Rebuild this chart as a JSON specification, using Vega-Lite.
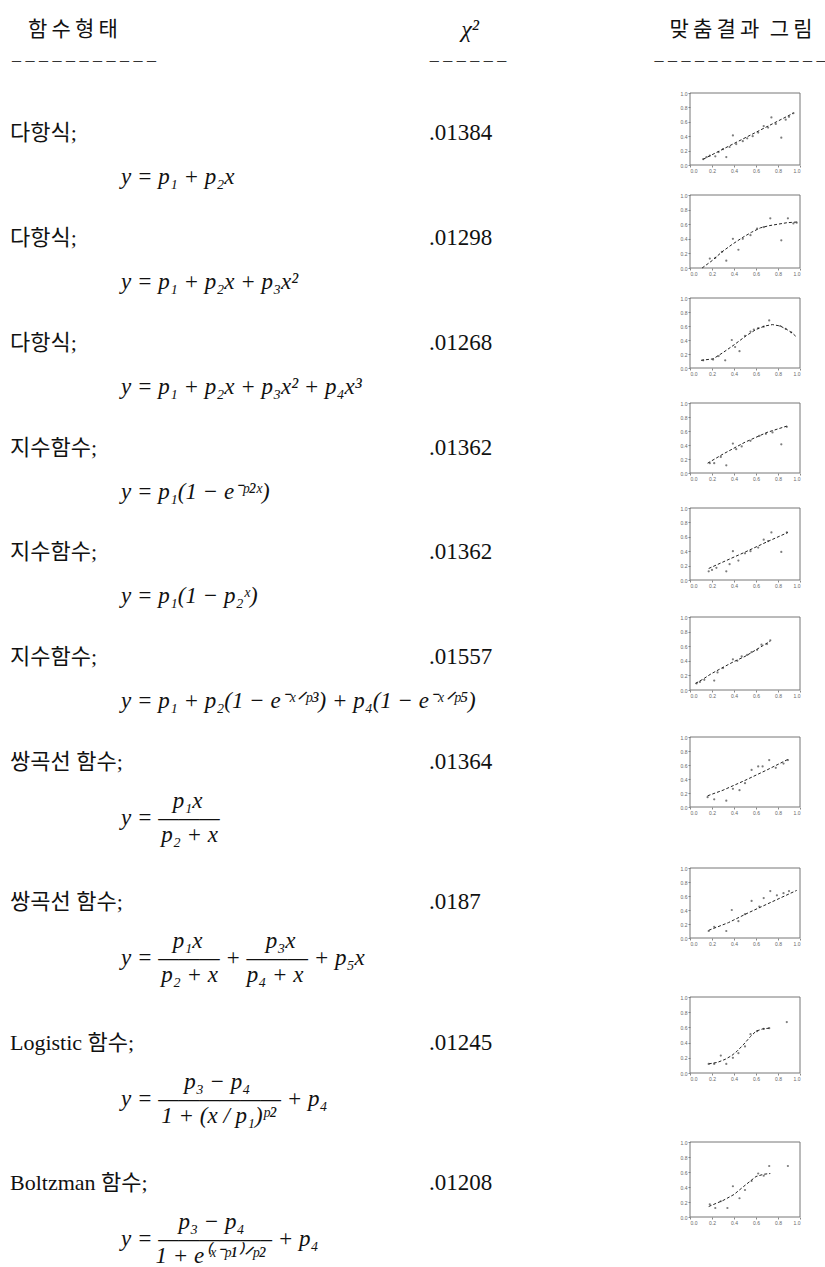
{
  "$schema": "https://vega.github.io/schema/vega-lite/v6.json",
  "padding": 0,
  "background": "white",
  "bounds": "flush",
  "spacing": 20,
  "config": {
    "view": {"stroke": null},
    "text": {"color": "#111", "baseline": "middle"},
    "axis": {"title": null, "grid": false, "domain": false, "tickSize": 2, "tickColor": "#888", "labelFontSize": 5, "labelColor": "#666", "tickCount": 5, "labelPadding": 1, "labelFont": "Liberation Sans"}
  },
  "datasets": {
    "head": [
      {"col": 1, "label": "함\u2009수\u2009형\u2009태", "dash": "– – – – – – – – – – –"},
      {"col": 2, "label": "χ²", "dash": "– – – – – –"},
      {"col": 3, "label": "맞\u2009춤\u2009결\u2009과\u2002그\u2009림", "dash": "– – – – – – – – – – – – –"}
    ],
    "rows": [
      {"row": 1, "name": "다항식;", "chi": ".01384", "kind": "line", "f": "y = p₁ + p₂x"},
      {"row": 2, "name": "다항식;", "chi": ".01298", "kind": "line", "f": "y = p₁ + p₂x + p₃x²"},
      {"row": 3, "name": "다항식;", "chi": ".01268", "kind": "line", "f": "y = p₁ + p₂x + p₃x² + p₄x³"},
      {"row": 4, "name": "지수함수;", "chi": ".01362", "kind": "line", "f": "y = p₁(1 − e⁻ᵖ²ˣ)"},
      {"row": 5, "name": "지수함수;", "chi": ".01362", "kind": "line", "f": "y = p₁(1 − p₂ˣ)"},
      {"row": 6, "name": "지수함수;", "chi": ".01557", "kind": "line", "f": "y = p₁ + p₂(1 − e⁻ˣᐟᵖ³) + p₄(1 − e⁻ˣᐟᵖ⁵)"},
      {"row": 7, "name": "쌍곡선 함수;", "chi": ".01364", "kind": "frac", "f": "\u200b\u00a0\u00a0\u00a0\u00a0\u00a0\u00a0\u00a0\u00a0\u00a0p₁x\ny = ———\n\u200b\u00a0\u00a0\u00a0\u00a0\u00a0\u00a0\u00a0p₂ + x"},
      {"row": 8, "name": "쌍곡선 함수;", "chi": ".0187", "kind": "frac", "f": "\u200b\u00a0\u00a0\u00a0\u00a0\u00a0\u00a0\u00a0\u00a0\u00a0p₁x\u00a0\u00a0\u00a0\u00a0\u00a0\u00a0\u00a0\u00a0\u00a0\u00a0\u00a0p₃x\ny = ——— + ——— + p₅x\n\u200b\u00a0\u00a0\u00a0\u00a0\u00a0\u00a0\u00a0p₂ + x\u00a0\u00a0\u00a0\u00a0\u00a0p₄ + x"},
      {"row": 9, "name": "Logistic 함수;", "chi": ".01245", "kind": "frac", "f": "\u200b\u00a0\u00a0\u00a0\u00a0\u00a0\u00a0\u00a0\u00a0\u00a0\u00a0\u00a0p₃ − p₄\ny = —————— + p₄\n\u200b\u00a0\u00a0\u00a0\u00a0\u00a0\u00a0\u00a01 + (x / p₁)ᵖ²"},
      {"row": 10, "name": "Boltzman 함수;", "chi": ".01208", "kind": "frac", "f": "\u200b\u00a0\u00a0\u00a0\u00a0\u00a0\u00a0\u00a0\u00a0\u00a0\u00a0p₃ − p₄\ny = —————– + p₄\n\u200b\u00a0\u00a0\u00a0\u00a0\u00a0\u00a01 + e⁽ˣ⁻ᵖ¹⁾ᐟᵖ²"}
    ],
    "thumbs": [
      {"row": 1, "k": "pt", "x": 0.12, "y": 0.08}, {"row": 1, "k": "pt", "x": 0.15, "y": 0.11}, {"row": 1, "k": "pt", "x": 0.18, "y": 0.13}, {"row": 1, "k": "pt", "x": 0.23, "y": 0.12}, {"row": 1, "k": "pt", "x": 0.26, "y": 0.18}, {"row": 1, "k": "pt", "x": 0.30, "y": 0.22}, {"row": 1, "k": "pt", "x": 0.33, "y": 0.11}, {"row": 1, "k": "pt", "x": 0.36, "y": 0.25}, {"row": 1, "k": "pt", "x": 0.39, "y": 0.41}, {"row": 1, "k": "pt", "x": 0.42, "y": 0.29}, {"row": 1, "k": "pt", "x": 0.48, "y": 0.33}, {"row": 1, "k": "pt", "x": 0.52, "y": 0.37}, {"row": 1, "k": "pt", "x": 0.57, "y": 0.40}, {"row": 1, "k": "pt", "x": 0.62, "y": 0.45}, {"row": 1, "k": "pt", "x": 0.67, "y": 0.54}, {"row": 1, "k": "pt", "x": 0.71, "y": 0.52}, {"row": 1, "k": "pt", "x": 0.74, "y": 0.66}, {"row": 1, "k": "pt", "x": 0.78, "y": 0.57}, {"row": 1, "k": "pt", "x": 0.83, "y": 0.38}, {"row": 1, "k": "pt", "x": 0.87, "y": 0.63}, {"row": 1, "k": "pt", "x": 0.90, "y": 0.67}, {"row": 1, "k": "pt", "x": 0.94, "y": 0.72},
      {"row": 1, "k": "fit", "x": 0.12, "y": 0.08}, {"row": 1, "k": "fit", "x": 0.94, "y": 0.72},
      {"row": 2, "k": "pt", "x": 0.18, "y": 0.13}, {"row": 2, "k": "pt", "x": 0.23, "y": 0.14}, {"row": 2, "k": "pt", "x": 0.29, "y": 0.22}, {"row": 2, "k": "pt", "x": 0.33, "y": 0.10}, {"row": 2, "k": "pt", "x": 0.39, "y": 0.40}, {"row": 2, "k": "pt", "x": 0.44, "y": 0.25}, {"row": 2, "k": "pt", "x": 0.48, "y": 0.40}, {"row": 2, "k": "pt", "x": 0.55, "y": 0.45}, {"row": 2, "k": "pt", "x": 0.61, "y": 0.54}, {"row": 2, "k": "pt", "x": 0.67, "y": 0.56}, {"row": 2, "k": "pt", "x": 0.73, "y": 0.68}, {"row": 2, "k": "pt", "x": 0.83, "y": 0.38}, {"row": 2, "k": "pt", "x": 0.89, "y": 0.68}, {"row": 2, "k": "pt", "x": 0.94, "y": 0.61}, {"row": 2, "k": "pt", "x": 0.97, "y": 0.62},
      {"row": 2, "k": "fit", "x": 0.11, "y": 0.0}, {"row": 2, "k": "fit", "x": 0.20, "y": 0.10}, {"row": 2, "k": "fit", "x": 0.29, "y": 0.22}, {"row": 2, "k": "fit", "x": 0.38, "y": 0.32}, {"row": 2, "k": "fit", "x": 0.48, "y": 0.42}, {"row": 2, "k": "fit", "x": 0.56, "y": 0.49}, {"row": 2, "k": "fit", "x": 0.64, "y": 0.55}, {"row": 2, "k": "fit", "x": 0.72, "y": 0.58}, {"row": 2, "k": "fit", "x": 0.80, "y": 0.60}, {"row": 2, "k": "fit", "x": 0.88, "y": 0.62}, {"row": 2, "k": "fit", "x": 0.97, "y": 0.63},
      {"row": 3, "k": "pt", "x": 0.12, "y": 0.11}, {"row": 3, "k": "pt", "x": 0.21, "y": 0.12}, {"row": 3, "k": "pt", "x": 0.26, "y": 0.17}, {"row": 3, "k": "pt", "x": 0.32, "y": 0.11}, {"row": 3, "k": "pt", "x": 0.38, "y": 0.40}, {"row": 3, "k": "pt", "x": 0.41, "y": 0.30}, {"row": 3, "k": "pt", "x": 0.45, "y": 0.24}, {"row": 3, "k": "pt", "x": 0.50, "y": 0.46}, {"row": 3, "k": "pt", "x": 0.55, "y": 0.52}, {"row": 3, "k": "pt", "x": 0.58, "y": 0.55}, {"row": 3, "k": "pt", "x": 0.62, "y": 0.57}, {"row": 3, "k": "pt", "x": 0.67, "y": 0.59}, {"row": 3, "k": "pt", "x": 0.72, "y": 0.68}, {"row": 3, "k": "pt", "x": 0.82, "y": 0.60}, {"row": 3, "k": "pt", "x": 0.87, "y": 0.56}, {"row": 3, "k": "pt", "x": 0.92, "y": 0.51},
      {"row": 3, "k": "fit", "x": 0.10, "y": 0.11}, {"row": 3, "k": "fit", "x": 0.21, "y": 0.13}, {"row": 3, "k": "fit", "x": 0.30, "y": 0.22}, {"row": 3, "k": "fit", "x": 0.40, "y": 0.33}, {"row": 3, "k": "fit", "x": 0.51, "y": 0.46}, {"row": 3, "k": "fit", "x": 0.60, "y": 0.55}, {"row": 3, "k": "fit", "x": 0.68, "y": 0.60}, {"row": 3, "k": "fit", "x": 0.75, "y": 0.62}, {"row": 3, "k": "fit", "x": 0.82, "y": 0.60}, {"row": 3, "k": "fit", "x": 0.88, "y": 0.55}, {"row": 3, "k": "fit", "x": 0.93, "y": 0.50}, {"row": 3, "k": "fit", "x": 0.97, "y": 0.44},
      {"row": 4, "k": "pt", "x": 0.18, "y": 0.14}, {"row": 4, "k": "pt", "x": 0.22, "y": 0.14}, {"row": 4, "k": "pt", "x": 0.28, "y": 0.23}, {"row": 4, "k": "pt", "x": 0.33, "y": 0.11}, {"row": 4, "k": "pt", "x": 0.39, "y": 0.42}, {"row": 4, "k": "pt", "x": 0.42, "y": 0.34}, {"row": 4, "k": "pt", "x": 0.47, "y": 0.38}, {"row": 4, "k": "pt", "x": 0.55, "y": 0.46}, {"row": 4, "k": "pt", "x": 0.63, "y": 0.53}, {"row": 4, "k": "pt", "x": 0.69, "y": 0.56}, {"row": 4, "k": "pt", "x": 0.75, "y": 0.58}, {"row": 4, "k": "pt", "x": 0.83, "y": 0.41}, {"row": 4, "k": "pt", "x": 0.88, "y": 0.66},
      {"row": 4, "k": "fit", "x": 0.16, "y": 0.14}, {"row": 4, "k": "fit", "x": 0.30, "y": 0.27}, {"row": 4, "k": "fit", "x": 0.50, "y": 0.44}, {"row": 4, "k": "fit", "x": 0.70, "y": 0.58}, {"row": 4, "k": "fit", "x": 0.88, "y": 0.67},
      {"row": 5, "k": "pt", "x": 0.17, "y": 0.12}, {"row": 5, "k": "pt", "x": 0.20, "y": 0.14}, {"row": 5, "k": "pt", "x": 0.24, "y": 0.17}, {"row": 5, "k": "pt", "x": 0.33, "y": 0.12}, {"row": 5, "k": "pt", "x": 0.36, "y": 0.22}, {"row": 5, "k": "pt", "x": 0.39, "y": 0.40}, {"row": 5, "k": "pt", "x": 0.44, "y": 0.27}, {"row": 5, "k": "pt", "x": 0.50, "y": 0.37}, {"row": 5, "k": "pt", "x": 0.55, "y": 0.40}, {"row": 5, "k": "pt", "x": 0.62, "y": 0.45}, {"row": 5, "k": "pt", "x": 0.67, "y": 0.56}, {"row": 5, "k": "pt", "x": 0.71, "y": 0.54}, {"row": 5, "k": "pt", "x": 0.74, "y": 0.66}, {"row": 5, "k": "pt", "x": 0.83, "y": 0.39}, {"row": 5, "k": "pt", "x": 0.88, "y": 0.66},
      {"row": 5, "k": "fit", "x": 0.17, "y": 0.16}, {"row": 5, "k": "fit", "x": 0.30, "y": 0.25}, {"row": 5, "k": "fit", "x": 0.49, "y": 0.38}, {"row": 5, "k": "fit", "x": 0.70, "y": 0.53}, {"row": 5, "k": "fit", "x": 0.89, "y": 0.66},
      {"row": 6, "k": "pt", "x": 0.06, "y": 0.09}, {"row": 6, "k": "pt", "x": 0.09, "y": 0.11}, {"row": 6, "k": "pt", "x": 0.13, "y": 0.14}, {"row": 6, "k": "pt", "x": 0.22, "y": 0.13}, {"row": 6, "k": "pt", "x": 0.25, "y": 0.24}, {"row": 6, "k": "pt", "x": 0.30, "y": 0.30}, {"row": 6, "k": "pt", "x": 0.39, "y": 0.42}, {"row": 6, "k": "pt", "x": 0.43, "y": 0.40}, {"row": 6, "k": "pt", "x": 0.47, "y": 0.46}, {"row": 6, "k": "pt", "x": 0.52, "y": 0.48}, {"row": 6, "k": "pt", "x": 0.56, "y": 0.52}, {"row": 6, "k": "pt", "x": 0.61, "y": 0.55}, {"row": 6, "k": "pt", "x": 0.65, "y": 0.62}, {"row": 6, "k": "pt", "x": 0.70, "y": 0.63}, {"row": 6, "k": "pt", "x": 0.73, "y": 0.68},
      {"row": 6, "k": "fit", "x": 0.05, "y": 0.09}, {"row": 6, "k": "fit", "x": 0.12, "y": 0.15}, {"row": 6, "k": "fit", "x": 0.19, "y": 0.22}, {"row": 6, "k": "fit", "x": 0.30, "y": 0.31}, {"row": 6, "k": "fit", "x": 0.40, "y": 0.39}, {"row": 6, "k": "fit", "x": 0.50, "y": 0.46}, {"row": 6, "k": "fit", "x": 0.60, "y": 0.55}, {"row": 6, "k": "fit", "x": 0.73, "y": 0.67},
      {"row": 7, "k": "pt", "x": 0.16, "y": 0.14}, {"row": 7, "k": "pt", "x": 0.22, "y": 0.11}, {"row": 7, "k": "pt", "x": 0.33, "y": 0.09}, {"row": 7, "k": "pt", "x": 0.39, "y": 0.26}, {"row": 7, "k": "pt", "x": 0.45, "y": 0.24}, {"row": 7, "k": "pt", "x": 0.50, "y": 0.34}, {"row": 7, "k": "pt", "x": 0.56, "y": 0.53}, {"row": 7, "k": "pt", "x": 0.62, "y": 0.58}, {"row": 7, "k": "pt", "x": 0.66, "y": 0.58}, {"row": 7, "k": "pt", "x": 0.72, "y": 0.67}, {"row": 7, "k": "pt", "x": 0.78, "y": 0.56}, {"row": 7, "k": "pt", "x": 0.85, "y": 0.62}, {"row": 7, "k": "pt", "x": 0.89, "y": 0.67},
      {"row": 7, "k": "fit", "x": 0.16, "y": 0.16}, {"row": 7, "k": "fit", "x": 0.30, "y": 0.24}, {"row": 7, "k": "fit", "x": 0.50, "y": 0.38}, {"row": 7, "k": "fit", "x": 0.70, "y": 0.53}, {"row": 7, "k": "fit", "x": 0.89, "y": 0.68},
      {"row": 8, "k": "pt", "x": 0.17, "y": 0.10}, {"row": 8, "k": "pt", "x": 0.22, "y": 0.16}, {"row": 8, "k": "pt", "x": 0.33, "y": 0.10}, {"row": 8, "k": "pt", "x": 0.38, "y": 0.40}, {"row": 8, "k": "pt", "x": 0.44, "y": 0.24}, {"row": 8, "k": "pt", "x": 0.50, "y": 0.34}, {"row": 8, "k": "pt", "x": 0.56, "y": 0.53}, {"row": 8, "k": "pt", "x": 0.63, "y": 0.45}, {"row": 8, "k": "pt", "x": 0.67, "y": 0.57}, {"row": 8, "k": "pt", "x": 0.73, "y": 0.67}, {"row": 8, "k": "pt", "x": 0.79, "y": 0.61}, {"row": 8, "k": "pt", "x": 0.85, "y": 0.64}, {"row": 8, "k": "pt", "x": 0.90, "y": 0.67},
      {"row": 8, "k": "fit", "x": 0.17, "y": 0.11}, {"row": 8, "k": "fit", "x": 0.35, "y": 0.22}, {"row": 8, "k": "fit", "x": 0.53, "y": 0.36}, {"row": 8, "k": "fit", "x": 0.75, "y": 0.52}, {"row": 8, "k": "fit", "x": 0.97, "y": 0.68},
      {"row": 9, "k": "pt", "x": 0.17, "y": 0.12}, {"row": 9, "k": "pt", "x": 0.22, "y": 0.12}, {"row": 9, "k": "pt", "x": 0.28, "y": 0.23}, {"row": 9, "k": "pt", "x": 0.33, "y": 0.12}, {"row": 9, "k": "pt", "x": 0.39, "y": 0.20}, {"row": 9, "k": "pt", "x": 0.44, "y": 0.26}, {"row": 9, "k": "pt", "x": 0.50, "y": 0.35}, {"row": 9, "k": "pt", "x": 0.55, "y": 0.51}, {"row": 9, "k": "pt", "x": 0.61, "y": 0.55}, {"row": 9, "k": "pt", "x": 0.67, "y": 0.58}, {"row": 9, "k": "pt", "x": 0.72, "y": 0.59}, {"row": 9, "k": "pt", "x": 0.88, "y": 0.67},
      {"row": 9, "k": "fit", "x": 0.17, "y": 0.12}, {"row": 9, "k": "fit", "x": 0.25, "y": 0.14}, {"row": 9, "k": "fit", "x": 0.32, "y": 0.18}, {"row": 9, "k": "fit", "x": 0.38, "y": 0.23}, {"row": 9, "k": "fit", "x": 0.43, "y": 0.29}, {"row": 9, "k": "fit", "x": 0.49, "y": 0.38}, {"row": 9, "k": "fit", "x": 0.55, "y": 0.48}, {"row": 9, "k": "fit", "x": 0.60, "y": 0.55}, {"row": 9, "k": "fit", "x": 0.66, "y": 0.58}, {"row": 9, "k": "fit", "x": 0.72, "y": 0.59},
      {"row": 10, "k": "pt", "x": 0.18, "y": 0.17}, {"row": 10, "k": "pt", "x": 0.23, "y": 0.12}, {"row": 10, "k": "pt", "x": 0.28, "y": 0.21}, {"row": 10, "k": "pt", "x": 0.34, "y": 0.12}, {"row": 10, "k": "pt", "x": 0.39, "y": 0.41}, {"row": 10, "k": "pt", "x": 0.45, "y": 0.25}, {"row": 10, "k": "pt", "x": 0.50, "y": 0.36}, {"row": 10, "k": "pt", "x": 0.56, "y": 0.48}, {"row": 10, "k": "pt", "x": 0.62, "y": 0.58}, {"row": 10, "k": "pt", "x": 0.67, "y": 0.55}, {"row": 10, "k": "pt", "x": 0.72, "y": 0.68}, {"row": 10, "k": "pt", "x": 0.89, "y": 0.68},
      {"row": 10, "k": "fit", "x": 0.17, "y": 0.14}, {"row": 10, "k": "fit", "x": 0.30, "y": 0.22}, {"row": 10, "k": "fit", "x": 0.40, "y": 0.30}, {"row": 10, "k": "fit", "x": 0.49, "y": 0.41}, {"row": 10, "k": "fit", "x": 0.60, "y": 0.54}, {"row": 10, "k": "fit", "x": 0.67, "y": 0.57}, {"row": 10, "k": "fit", "x": 0.73, "y": 0.58}
    ]
  },
  "hconcat": [
    {
      "width": 670,
      "height": 1267,
      "resolve": {"scale": {"x": "independent"}},
      "layer": [
        {
          "data": {"name": "head"},
          "transform": [{"filter": "datum.col == 1"}],
          "mark": {"type": "text", "font": "Noto Sans CJK KR", "fontSize": 21, "align": "center"},
          "encoding": {
            "x": {"field": "col", "type": "quantitative", "scale": {"domain": [1, 2], "range": [73, 468]}, "axis": null},
            "y": {"datum": 0, "type": "quantitative", "scale": {"domain": [0, 1, 7, 10], "range": [30, 133, 762, 1183], "zero": false, "nice": false}, "axis": null},
            "text": {"field": "label"}
          }
        },
        {
          "data": {"name": "head"},
          "transform": [{"filter": "datum.col == 2"}],
          "mark": {"type": "text", "font": "Liberation Serif", "fontStyle": "italic", "fontSize": 24, "align": "center"},
          "encoding": {
            "x": {"field": "col", "type": "quantitative", "scale": {"domain": [1, 2], "range": [73, 470]}, "axis": null},
            "y": {"datum": 0, "type": "quantitative", "scale": {"domain": [0, 1, 7, 10], "range": [30, 133, 762, 1183], "zero": false, "nice": false}, "axis": null},
            "text": {"field": "label"}
          }
        },
        {
          "data": {"name": "head"},
          "transform": [{"filter": "datum.col <= 2"}],
          "mark": {"type": "text", "font": "Liberation Serif", "fontSize": 18, "align": "center", "dy": 31, "color": "#333"},
          "encoding": {
            "x": {"field": "col", "type": "quantitative", "scale": {"domain": [1, 2], "range": [84, 468]}, "axis": null},
            "y": {"datum": 0, "type": "quantitative", "scale": {"domain": [0, 1, 7, 10], "range": [30, 133, 762, 1183], "zero": false, "nice": false}, "axis": null},
            "text": {"field": "dash"}
          }
        },
        {
          "data": {"name": "rows"},
          "mark": {"type": "text", "font": "'Liberation Serif', 'Noto Sans CJK KR'", "fontSize": 22, "align": "left"},
          "encoding": {
            "x": {"datum": 1, "type": "quantitative", "scale": {"domain": [1, 2, 3], "range": [10, 121, 429]}, "axis": null},
            "y": {"field": "row", "type": "quantitative", "scale": {"domain": [0, 1, 7, 10], "range": [30, 133, 762, 1183], "zero": false, "nice": false}, "axis": null},
            "text": {"field": "name"}
          }
        },
        {
          "data": {"name": "rows"},
          "mark": {"type": "text", "font": "Liberation Serif", "fontSize": 23, "align": "left"},
          "encoding": {
            "x": {"datum": 3, "type": "quantitative", "scale": {"domain": [1, 2, 3], "range": [10, 121, 429]}, "axis": null},
            "y": {"field": "row", "type": "quantitative", "scale": {"domain": [0, 1, 7, 10], "range": [30, 133, 762, 1183], "zero": false, "nice": false}, "axis": null},
            "text": {"field": "chi"}
          }
        },
        {
          "data": {"name": "rows"},
          "transform": [{"filter": "datum.kind == 'line'"}],
          "mark": {"type": "text", "font": "Liberation Serif", "fontStyle": "italic", "fontSize": 23, "align": "left", "dy": 44},
          "encoding": {
            "x": {"datum": 2, "type": "quantitative", "scale": {"domain": [1, 2, 3], "range": [10, 121, 429]}, "axis": null},
            "y": {"field": "row", "type": "quantitative", "scale": {"domain": [0, 1, 7, 10], "range": [30, 133, 762, 1183], "zero": false, "nice": false}, "axis": null},
            "text": {"field": "f"}
          }
        },
        {
          "data": {"name": "rows"},
          "transform": [{"filter": "datum.kind == 'frac'"}],
          "mark": {"type": "text", "font": "Liberation Serif", "fontStyle": "italic", "fontSize": 23, "align": "left", "dy": 39, "lineBreak": "\n", "lineHeight": 17},
          "encoding": {
            "x": {"datum": 2, "type": "quantitative", "scale": {"domain": [1, 2, 3], "range": [10, 121, 429]}, "axis": null},
            "y": {"field": "row", "type": "quantitative", "scale": {"domain": [0, 1, 7, 10], "range": [30, 133, 762, 1183], "zero": false, "nice": false}, "axis": null},
            "text": {"field": "f"}
          }
        }
      ]
    },
    {
      "bounds": "flush",
      "spacing": 0,
      "vconcat": [
        {
          "width": 110,
          "height": 80,
          "data": {"name": "head"},
          "transform": [{"filter": "datum.col == 3"}],
          "layer": [
            {"mark": {"type": "text", "font": "Noto Sans CJK KR", "fontSize": 21, "align": "center", "dx": -4, "dy": -10}, "encoding": {"text": {"field": "label"}}},
            {"mark": {"type": "text", "font": "Liberation Serif", "fontSize": 18, "align": "center", "dx": -5, "dy": 21, "color": "#333"}, "encoding": {"text": {"field": "dash"}}}
          ]
        },
        {
          "width": 110, "height": 102,
          "layer": [
            {"data": {"name": "rows"}, "transform": [{"filter": "datum.row == 1"}], "mark": {"type": "rect", "fillOpacity": 0, "stroke": "#777", "strokeWidth": 1},
             "encoding": {"x": {"datum": 0, "type": "quantitative", "scale": {"domain": [0, 1], "nice": false, "zero": false}, "axis": {"offset": -17}}, "x2": {"datum": 1}, "y": {"datum": 0, "type": "quantitative", "scale": {"domain": [0, 1], "range": [85, 13], "nice": false, "zero": false}, "axis": {}}, "y2": {"datum": 1}}},
            {"data": {"name": "thumbs"}, "transform": [{"filter": "datum.row == 1 && datum.k == 'pt'"}], "mark": {"type": "point", "filled": true, "size": 5, "color": "#444"},
             "encoding": {"x": {"field": "x", "type": "quantitative", "axis": {"offset": -17}}, "y": {"field": "y", "type": "quantitative", "axis": {}}}},
            {"data": {"name": "thumbs"}, "transform": [{"filter": "datum.row == 1 && datum.k == 'fit'"}], "mark": {"type": "line", "color": "#222", "strokeWidth": 1, "strokeDash": [3, 2]},
             "encoding": {"x": {"field": "x", "type": "quantitative", "axis": {"offset": -17}}, "y": {"field": "y", "type": "quantitative", "axis": {}}}}
          ]
        },
        {
          "width": 110, "height": 103,
          "layer": [
            {"data": {"name": "rows"}, "transform": [{"filter": "datum.row == 2"}], "mark": {"type": "rect", "fillOpacity": 0, "stroke": "#777", "strokeWidth": 1},
             "encoding": {"x": {"datum": 0, "type": "quantitative", "scale": {"domain": [0, 1], "nice": false, "zero": false}, "axis": {"offset": -17}}, "x2": {"datum": 1}, "y": {"datum": 0, "type": "quantitative", "scale": {"domain": [0, 1], "range": [86, 13], "nice": false, "zero": false}, "axis": {}}, "y2": {"datum": 1}}},
            {"data": {"name": "thumbs"}, "transform": [{"filter": "datum.row == 2 && datum.k == 'pt'"}], "mark": {"type": "point", "filled": true, "size": 5, "color": "#444"},
             "encoding": {"x": {"field": "x", "type": "quantitative", "axis": {"offset": -17}}, "y": {"field": "y", "type": "quantitative", "axis": {}}}},
            {"data": {"name": "thumbs"}, "transform": [{"filter": "datum.row == 2 && datum.k == 'fit'"}], "mark": {"type": "line", "color": "#222", "strokeWidth": 1, "strokeDash": [3, 2]},
             "encoding": {"x": {"field": "x", "type": "quantitative", "axis": {"offset": -17}}, "y": {"field": "y", "type": "quantitative", "axis": {}}}}
          ]
        },
        {
          "width": 110, "height": 105,
          "layer": [
            {"data": {"name": "rows"}, "transform": [{"filter": "datum.row == 3"}], "mark": {"type": "rect", "fillOpacity": 0, "stroke": "#777", "strokeWidth": 1},
             "encoding": {"x": {"datum": 0, "type": "quantitative", "scale": {"domain": [0, 1], "nice": false, "zero": false}, "axis": {"offset": -22}}, "x2": {"datum": 1}, "y": {"datum": 0, "type": "quantitative", "scale": {"domain": [0, 1], "range": [83, 13], "nice": false, "zero": false}, "axis": {}}, "y2": {"datum": 1}}},
            {"data": {"name": "thumbs"}, "transform": [{"filter": "datum.row == 3 && datum.k == 'pt'"}], "mark": {"type": "point", "filled": true, "size": 5, "color": "#444"},
             "encoding": {"x": {"field": "x", "type": "quantitative", "axis": {"offset": -22}}, "y": {"field": "y", "type": "quantitative", "axis": {}}}},
            {"data": {"name": "thumbs"}, "transform": [{"filter": "datum.row == 3 && datum.k == 'fit'"}], "mark": {"type": "line", "color": "#222", "strokeWidth": 1, "strokeDash": [3, 2]},
             "encoding": {"x": {"field": "x", "type": "quantitative", "axis": {"offset": -22}}, "y": {"field": "y", "type": "quantitative", "axis": {}}}}
          ]
        },
        {
          "width": 110, "height": 105,
          "layer": [
            {"data": {"name": "rows"}, "transform": [{"filter": "datum.row == 4"}], "mark": {"type": "rect", "fillOpacity": 0, "stroke": "#777", "strokeWidth": 1},
             "encoding": {"x": {"datum": 0, "type": "quantitative", "scale": {"domain": [0, 1], "nice": false, "zero": false}, "axis": {"offset": -22}}, "x2": {"datum": 1}, "y": {"datum": 0, "type": "quantitative", "scale": {"domain": [0, 1], "range": [83, 13], "nice": false, "zero": false}, "axis": {}}, "y2": {"datum": 1}}},
            {"data": {"name": "thumbs"}, "transform": [{"filter": "datum.row == 4 && datum.k == 'pt'"}], "mark": {"type": "point", "filled": true, "size": 5, "color": "#444"},
             "encoding": {"x": {"field": "x", "type": "quantitative", "axis": {"offset": -22}}, "y": {"field": "y", "type": "quantitative", "axis": {}}}},
            {"data": {"name": "thumbs"}, "transform": [{"filter": "datum.row == 4 && datum.k == 'fit'"}], "mark": {"type": "line", "color": "#222", "strokeWidth": 1, "strokeDash": [3, 2]},
             "encoding": {"x": {"field": "x", "type": "quantitative", "axis": {"offset": -22}}, "y": {"field": "y", "type": "quantitative", "axis": {}}}}
          ]
        },
        {
          "width": 110, "height": 109,
          "layer": [
            {"data": {"name": "rows"}, "transform": [{"filter": "datum.row == 5"}], "mark": {"type": "rect", "fillOpacity": 0, "stroke": "#777", "strokeWidth": 1},
             "encoding": {"x": {"datum": 0, "type": "quantitative", "scale": {"domain": [0, 1], "nice": false, "zero": false}, "axis": {"offset": -24}}, "x2": {"datum": 1}, "y": {"datum": 0, "type": "quantitative", "scale": {"domain": [0, 1], "range": [85, 13], "nice": false, "zero": false}, "axis": {}}, "y2": {"datum": 1}}},
            {"data": {"name": "thumbs"}, "transform": [{"filter": "datum.row == 5 && datum.k == 'pt'"}], "mark": {"type": "point", "filled": true, "size": 5, "color": "#444"},
             "encoding": {"x": {"field": "x", "type": "quantitative", "axis": {"offset": -24}}, "y": {"field": "y", "type": "quantitative", "axis": {}}}},
            {"data": {"name": "thumbs"}, "transform": [{"filter": "datum.row == 5 && datum.k == 'fit'"}], "mark": {"type": "line", "color": "#222", "strokeWidth": 1, "strokeDash": [3, 2]},
             "encoding": {"x": {"field": "x", "type": "quantitative", "axis": {"offset": -24}}, "y": {"field": "y", "type": "quantitative", "axis": {}}}}
          ]
        },
        {
          "width": 110, "height": 120,
          "layer": [
            {"data": {"name": "rows"}, "transform": [{"filter": "datum.row == 6"}], "mark": {"type": "rect", "fillOpacity": 0, "stroke": "#777", "strokeWidth": 1},
             "encoding": {"x": {"datum": 0, "type": "quantitative", "scale": {"domain": [0, 1], "nice": false, "zero": false}, "axis": {"offset": -34}}, "x2": {"datum": 1}, "y": {"datum": 0, "type": "quantitative", "scale": {"domain": [0, 1], "range": [86, 13], "nice": false, "zero": false}, "axis": {}}, "y2": {"datum": 1}}},
            {"data": {"name": "thumbs"}, "transform": [{"filter": "datum.row == 6 && datum.k == 'pt'"}], "mark": {"type": "point", "filled": true, "size": 5, "color": "#444"},
             "encoding": {"x": {"field": "x", "type": "quantitative", "axis": {"offset": -34}}, "y": {"field": "y", "type": "quantitative", "axis": {}}}},
            {"data": {"name": "thumbs"}, "transform": [{"filter": "datum.row == 6 && datum.k == 'fit'"}], "mark": {"type": "line", "color": "#222", "strokeWidth": 1, "strokeDash": [3, 2]},
             "encoding": {"x": {"field": "x", "type": "quantitative", "axis": {"offset": -34}}, "y": {"field": "y", "type": "quantitative", "axis": {}}}}
          ]
        },
        {
          "width": 110, "height": 131,
          "layer": [
            {"data": {"name": "rows"}, "transform": [{"filter": "datum.row == 7"}], "mark": {"type": "rect", "fillOpacity": 0, "stroke": "#777", "strokeWidth": 1},
             "encoding": {"x": {"datum": 0, "type": "quantitative", "scale": {"domain": [0, 1], "nice": false, "zero": false}, "axis": {"offset": -48}}, "x2": {"datum": 1}, "y": {"datum": 0, "type": "quantitative", "scale": {"domain": [0, 1], "range": [83, 13], "nice": false, "zero": false}, "axis": {}}, "y2": {"datum": 1}}},
            {"data": {"name": "thumbs"}, "transform": [{"filter": "datum.row == 7 && datum.k == 'pt'"}], "mark": {"type": "point", "filled": true, "size": 5, "color": "#444"},
             "encoding": {"x": {"field": "x", "type": "quantitative", "axis": {"offset": -48}}, "y": {"field": "y", "type": "quantitative", "axis": {}}}},
            {"data": {"name": "thumbs"}, "transform": [{"filter": "datum.row == 7 && datum.k == 'fit'"}], "mark": {"type": "line", "color": "#222", "strokeWidth": 1, "strokeDash": [3, 2]},
             "encoding": {"x": {"field": "x", "type": "quantitative", "axis": {"offset": -48}}, "y": {"field": "y", "type": "quantitative", "axis": {}}}}
          ]
        },
        {
          "width": 110, "height": 129,
          "layer": [
            {"data": {"name": "rows"}, "transform": [{"filter": "datum.row == 8"}], "mark": {"type": "rect", "fillOpacity": 0, "stroke": "#777", "strokeWidth": 1},
             "encoding": {"x": {"datum": 0, "type": "quantitative", "scale": {"domain": [0, 1], "nice": false, "zero": false}, "axis": {"offset": -46}}, "x2": {"datum": 1}, "y": {"datum": 0, "type": "quantitative", "scale": {"domain": [0, 1], "range": [83, 13], "nice": false, "zero": false}, "axis": {}}, "y2": {"datum": 1}}},
            {"data": {"name": "thumbs"}, "transform": [{"filter": "datum.row == 8 && datum.k == 'pt'"}], "mark": {"type": "point", "filled": true, "size": 5, "color": "#444"},
             "encoding": {"x": {"field": "x", "type": "quantitative", "axis": {"offset": -46}}, "y": {"field": "y", "type": "quantitative", "axis": {}}}},
            {"data": {"name": "thumbs"}, "transform": [{"filter": "datum.row == 8 && datum.k == 'fit'"}], "mark": {"type": "line", "color": "#222", "strokeWidth": 1, "strokeDash": [3, 2]},
             "encoding": {"x": {"field": "x", "type": "quantitative", "axis": {"offset": -46}}, "y": {"field": "y", "type": "quantitative", "axis": {}}}}
          ]
        },
        {
          "width": 110, "height": 145,
          "layer": [
            {"data": {"name": "rows"}, "transform": [{"filter": "datum.row == 9"}], "mark": {"type": "rect", "fillOpacity": 0, "stroke": "#777", "strokeWidth": 1},
             "encoding": {"x": {"datum": 0, "type": "quantitative", "scale": {"domain": [0, 1], "nice": false, "zero": false}, "axis": {"offset": -56}}, "x2": {"datum": 1}, "y": {"datum": 0, "type": "quantitative", "scale": {"domain": [0, 1], "range": [89, 13], "nice": false, "zero": false}, "axis": {}}, "y2": {"datum": 1}}},
            {"data": {"name": "thumbs"}, "transform": [{"filter": "datum.row == 9 && datum.k == 'pt'"}], "mark": {"type": "point", "filled": true, "size": 5, "color": "#444"},
             "encoding": {"x": {"field": "x", "type": "quantitative", "axis": {"offset": -56}}, "y": {"field": "y", "type": "quantitative", "axis": {}}}},
            {"data": {"name": "thumbs"}, "transform": [{"filter": "datum.row == 9 && datum.k == 'fit'"}], "mark": {"type": "line", "color": "#222", "strokeWidth": 1, "strokeDash": [3, 2]},
             "encoding": {"x": {"field": "x", "type": "quantitative", "axis": {"offset": -56}}, "y": {"field": "y", "type": "quantitative", "axis": {}}}}
          ]
        },
        {
          "width": 110, "height": 138,
          "layer": [
            {"data": {"name": "rows"}, "transform": [{"filter": "datum.row == 10"}], "mark": {"type": "rect", "fillOpacity": 0, "stroke": "#777", "strokeWidth": 1},
             "encoding": {"x": {"datum": 0, "type": "quantitative", "scale": {"domain": [0, 1], "nice": false, "zero": false}, "axis": {"offset": -50}}, "x2": {"datum": 1}, "y": {"datum": 0, "type": "quantitative", "scale": {"domain": [0, 1], "range": [88, 13], "nice": false, "zero": false}, "axis": {}}, "y2": {"datum": 1}}},
            {"data": {"name": "thumbs"}, "transform": [{"filter": "datum.row == 10 && datum.k == 'pt'"}], "mark": {"type": "point", "filled": true, "size": 5, "color": "#444"},
             "encoding": {"x": {"field": "x", "type": "quantitative", "axis": {"offset": -50}}, "y": {"field": "y", "type": "quantitative", "axis": {}}}},
            {"data": {"name": "thumbs"}, "transform": [{"filter": "datum.row == 10 && datum.k == 'fit'"}], "mark": {"type": "line", "color": "#222", "strokeWidth": 1, "strokeDash": [3, 2]},
             "encoding": {"x": {"field": "x", "type": "quantitative", "axis": {"offset": -50}}, "y": {"field": "y", "type": "quantitative", "axis": {}}}}
          ]
        }
      ]
    }
  ]
}
